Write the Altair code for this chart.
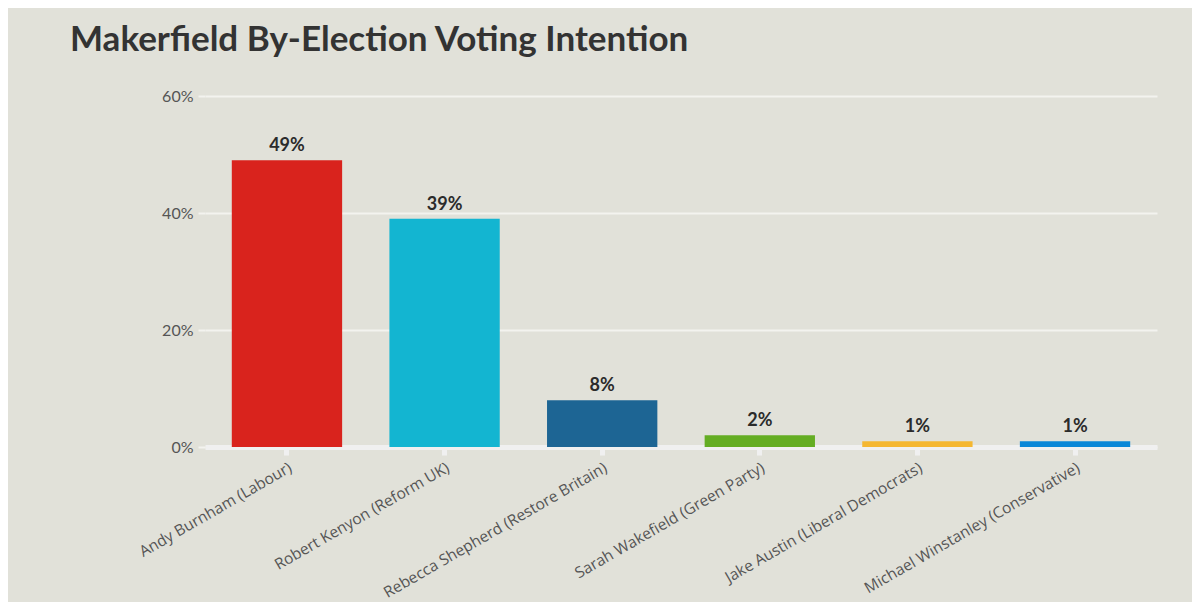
import altair as alt
import pandas as pd

candidates = [
    "Andy Burnham (Labour)",
    "Robert Kenyon (Reform UK)",
    "Rebecca Shepherd (Restore Britain)",
    "Sarah Wakefield (Green Party)",
    "Jake Austin (Liberal Democrats)",
    "Michael Winstanley (Conservative)",
]
shares = [49, 39, 8, 2, 1, 1]
colors = ["#d9231d", "#13b5d1", "#1d6594", "#64ad23", "#f5b731", "#0a87d8"]
y_ticks = [0, 20, 40, 60]

df = pd.DataFrame({"candidate": candidates, "share": shares})
df["label"] = [f"{v}%" for v in shares]

BG = "#e1e1d9"
GRID = "#f3f3ef"

x = alt.X(
    "candidate:N",
    sort=candidates,
    scale=alt.Scale(paddingInner=0.3, paddingOuter=0.17),
    axis=alt.Axis(
        title=None,
        labelAngle=-30,
        labelFont="Open Sans",
        labelFontSize=15.5,
        labelColor="#555555",
        labelPadding=5,
        labelLimit=500,
        domainColor="#f0f0f0",
        domainWidth=5,
        tickColor="#f0f0f0",
        tickWidth=5,
        tickSize=8,
        grid=False,
    ),
)
y = alt.Y(
    "share:Q",
    scale=alt.Scale(domain=[0, 60], nice=False),
    axis=alt.Axis(
        title=None,
        values=y_ticks,
        labelExpr="datum.value + '%'",
        labelFont="Lato",
        labelFontSize=16,
        labelColor="#555555",
        labelPadding=5,
        domain=False,
        tickColor=GRID,
        tickWidth=2,
        tickSize=7,
        gridColor=GRID,
        gridWidth=2,
    ),
)

bars = alt.Chart(df).mark_bar().encode(
    x=x,
    y=y,
    color=alt.Color("candidate:N", scale=alt.Scale(domain=candidates, range=colors), legend=None),
)
labels = alt.Chart(df).mark_text(
    baseline="bottom", dy=-5, font="Lato", fontWeight="bold", fontSize=18, color="#2b2b2b"
).encode(x=alt.X("candidate:N", sort=candidates), y="share:Q", text="label:N")

chart = (
    alt.layer(bars, labels)
    .properties(
        width=952,
        height=351,
        background=BG,
        autosize=alt.AutoSizeParams(type="none"),
        padding={"left": 197, "top": 88, "right": 35, "bottom": 155},
        title=alt.TitleParams(
            "Makerfield By-Election Voting Intention",
            anchor="start",
            frame="group",
            dx=-135,
            font="Lato",
            fontSize=35,
            fontWeight="bold",
            color="#333333",
            offset=30,
        ),
    )
    .configure_view(stroke=None)
)

chart.save("out.html", embed_options={"renderer": "svg", "actions": False})
